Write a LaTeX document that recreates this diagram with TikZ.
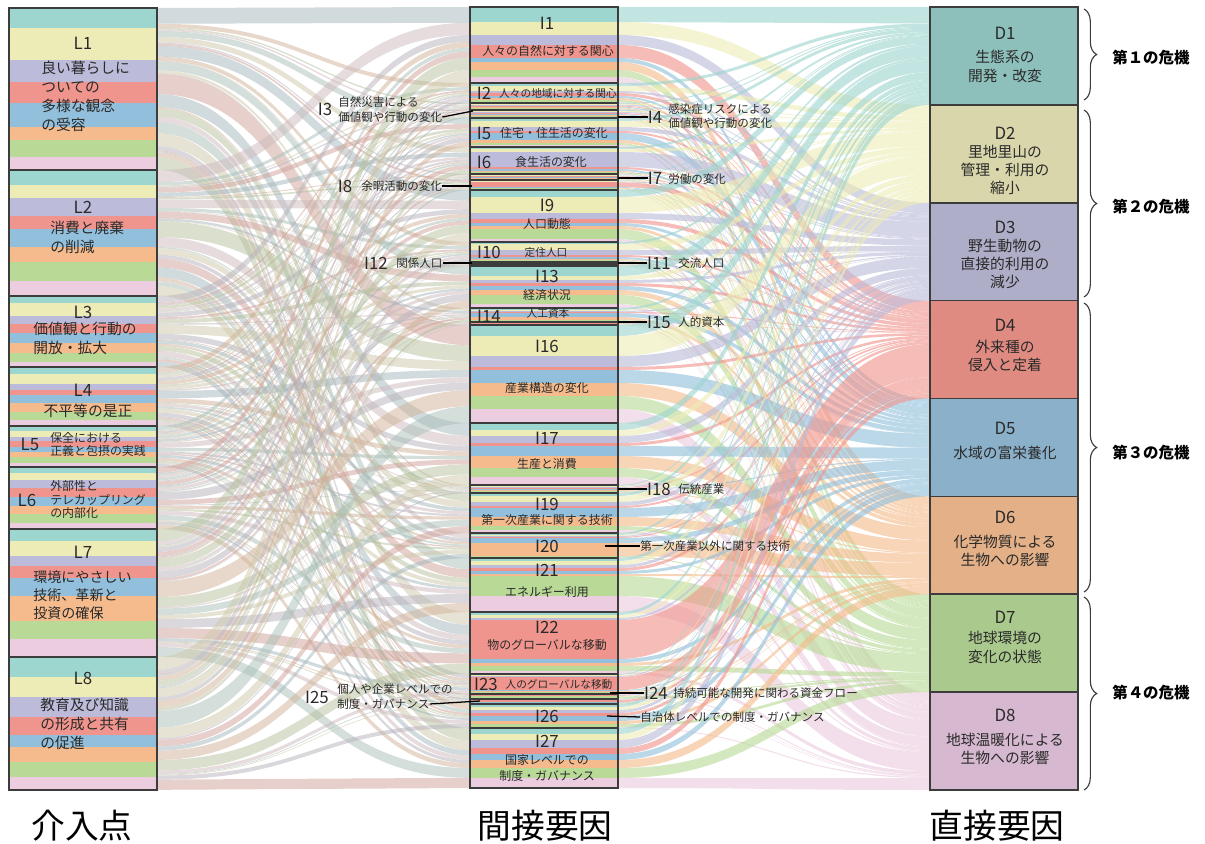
\documentclass[tikz,border=0pt]{standalone}
\usepackage{fontspec}
\setmainfont{Noto Sans CJK JP}
\usetikzlibrary{decorations.pathreplacing}
\definecolor{c1}{HTML}{9DD5CF}
\definecolor{c2}{HTML}{EEECB6}
\definecolor{c3}{HTML}{BCBBDA}
\definecolor{c4}{HTML}{F0958D}
\definecolor{c5}{HTML}{92C0DC}
\definecolor{c6}{HTML}{F5BB8C}
\definecolor{c7}{HTML}{B8DA96}
\definecolor{c8}{HTML}{ECCCDF}
\definecolor{d1}{HTML}{8EC0BB}
\definecolor{d2}{HTML}{D9D6AB}
\definecolor{d3}{HTML}{AFAEC9}
\definecolor{d4}{HTML}{DF8B81}
\definecolor{d5}{HTML}{8BB0C9}
\definecolor{d6}{HTML}{E3B087}
\definecolor{d7}{HTML}{AAC98D}
\definecolor{d8}{HTML}{D6B9D0}
\definecolor{mesh}{HTML}{B3ABA2}
\definecolor{edge}{HTML}{3C3C3C}
\definecolor{ink}{HTML}{2A2A2A}
\tikzset{
  boxline/.style={draw=edge, line width=1.1pt},
  flowL/.style={fill opacity=0.5},
  flowR/.style={fill opacity=0.62},
  leader/.style={draw=black, line width=0.9pt},
  num/.style={text=ink, inner sep=0pt, font=\fontsize{12}{13}\selectfont},
  ltxt/.style={text=ink, inner sep=0pt, align=left, font=\fontsize{10.5}{13.5}\selectfont},
  mtxt/.style={text=ink, inner sep=0pt, align=center, font=\fontsize{8.5}{11}\selectfont},
  stxt/.style={text=ink, inner sep=0pt, font=\fontsize{7.6}{10}\selectfont},
  otxt/.style={text=ink, inner sep=0pt, align=left, font=\fontsize{8.2}{10}\selectfont},
  dtxt/.style={text=ink, inner sep=0pt, align=center, font=\fontsize{10.5}{13}\selectfont},
  crisis/.style={text=black, inner sep=0pt, font=\bfseries\fontsize{11}{13}\selectfont},
  title/.style={text=black, inner sep=0pt, font=\fontsize{24}{26}\selectfont},
  bracel/.style={decorate, decoration={brace, amplitude=9pt}, line width=0.8pt, draw=edge}
}
% band between two vertical edges
\newcommand\band[7]{\fill[#1] (#2,#3) .. controls ({(#2+#5)/2},#3) and ({(#2+#5)/2},#6) .. (#5,#6) -- (#5,#7) .. controls ({(#2+#5)/2},#7) and ({(#2+#5)/2},#4) .. (#2,#4) -- cycle;}

\begin{document}
\begin{tikzpicture}[x=0.025cm, y=-0.025cm]
  \useasboundingbox (0,0) rectangle (1205,843);

  % top/bottom/weights of the eight colours
  \def\leftlist{8/170/20/32/22/21/24/13/17/13, 170/296/15/12/18/13/17/15/18/15,
    296/367/7/12/8/8/10/10/8/5, 367/426/7/10/6/5/8/9/8/6, 426/467/5/6/4/6/5/5/6/4,
    467/529/6/7/8/9/8/8/9/6, 529/657/12/15/10/12/17/25/18/18, 657/790/20/20/20/18/12/15/15/13}
  \def\midlist{7/83/15/13/10/13/4/8/7/6, 83/103/3/5/2/3/2/2/2/1, 103/110/1/1/1/1/1/1/1/1,
    110/118/1/1/1/1/1/1/1/1, 118/147/3/6/4/2/7/3/2/2, 147/174/2/3/15/2/2/1/1/1,
    174/180/1/1/1/1/1/1/1/1, 180/190/1/1/1/6/1/1/1/1, 190/242/7/16/6/4/3/3/10/3,
    242/262/2/6/5/2/2/1/1/1, 262/264/1/1/1/1/1/1/1/1, 264/266/1/1/1/1/1/1/1/1,
    266/308/10/4/3/3/4/5/9/4, 308/322/2/1/1/1/4/3/1/1, 322/325/1/1/1/1/1/1/1/1,
    325/423/11/20/11/3/13/13/13/14, 423/485/7/6/7/3/10/12/9/8, 485/493/1/1/1/1/1/1/1/1,
    493/533/3/6/4/2/9/9/4/3, 533/558/2/1/1/1/5/13/1/1, 558/612/3/4/3/3/3/2/20/16,
    612/674/3/3/2/39/4/3/5/3, 674/694/1/1/1/14/1/1/1/1, 694/699/1/1/1/1/1/1/6/1,
    699/704/1/1/1/6/1/1/1/1, 704/728/3/3/3/3/5/3/3/1, 728/788/6/6/8/6/6/8/10/10}

  % left flows L -> I
  \foreach \ytop/\ybot/\wa/\wb/\wc/\wd/\we/\wf/\wg/\wh [count=\j] in \midlist
    {\expandafter\xdef\csname iacc\j\endcsname{\ytop}}
  \foreach \lt/\lb/\pa/\pb/\pc/\pd/\pe/\pf/\pg/\ph [count=\i] in \leftlist {
    \xdef\lacc{\lt}
    \foreach \ytop/\ybot/\wa/\wb/\wc/\wd/\we/\wf/\wg/\wh [count=\j] in \midlist {
      \edef\yi{\csname iacc\j\endcsname}
      \pgfmathsetmacro\ww{(\lb-\lt)*(\ybot-\ytop)/782}
      \pgfmathsetmacro\ya{\lacc+\ww}
      \pgfmathsetmacro\yb{\yi+\ww}
      \pgfmathtruncatemacro\ci{mod(3*\i+\j,8)+1}
      \band{c\ci!45!mesh, flowL}{157}{\lacc}{\ya}{470}{\yi}{\yb}
      \xdef\lacc{\ya}
      \expandafter\xdef\csname iacc\j\endcsname{\yb}
    }
  }

  % right flows I -> D
  \foreach \k in {1,...,8}{\expandafter\xdef\csname tot\k\endcsname{0}}
  \foreach \ytop/\ybot/\wa/\wb/\wc/\wd/\we/\wf/\wg/\wh in \midlist {
    \pgfmathsetmacro\ws{\wa+\wb+\wc+\wd+\we+\wf+\wg+\wh}
    \foreach \wt [count=\k] in {\wa,\wb,\wc,\wd,\we,\wf,\wg,\wh} {
      \edef\tk{\csname tot\k\endcsname}
      \pgfmathsetmacro\tmp{\tk+\wt/\ws*(\ybot-\ytop)}
      \expandafter\xdef\csname tot\k\endcsname{\tmp}
    }
  }
  \foreach \k in {1,...,8}{\pgfmathsetmacro\tmp{7+(\k-1)*97.875}\expandafter\xdef\csname dacc\k\endcsname{\tmp}}
  \foreach \ytop/\ybot/\wa/\wb/\wc/\wd/\we/\wf/\wg/\wh in \midlist {
    \pgfmathsetmacro\ws{\wa+\wb+\wc+\wd+\we+\wf+\wg+\wh}
    \xdef\ycur{\ytop}
    \foreach \wt [count=\k] in {\wa,\wb,\wc,\wd,\we,\wf,\wg,\wh} {
      \edef\tk{\csname tot\k\endcsname}
      \edef\da{\csname dacc\k\endcsname}
      \pgfmathsetmacro\hh{\wt/\ws*(\ybot-\ytop)}
      \pgfmathsetmacro\yn{\ycur+\hh}
      \pgfmathsetmacro\db{\da+\hh*97.875/\tk}
      \band{c\k, flowR}{618}{\ycur}{\yn}{930}{\da}{\db}
      \fill[c\k] (470,\ycur) rectangle (618,\yn);
      \xdef\ycur{\yn}
      \expandafter\xdef\csname dacc\k\endcsname{\db}
    }
  }

  % left boxes
  \foreach \lt/\lb/\pa/\pb/\pc/\pd/\pe/\pf/\pg/\ph in \leftlist {
    \pgfmathsetmacro\ws{\pa+\pb+\pc+\pd+\pe+\pf+\pg+\ph}
    \xdef\ycur{\lt}
    \foreach \wt [count=\k] in {\pa,\pb,\pc,\pd,\pe,\pf,\pg,\ph} {
      \pgfmathsetmacro\yn{\ycur+\wt/\ws*(\lb-\lt)}
      \fill[c\k] (9,\ycur) rectangle (157,\yn);
      \xdef\ycur{\yn}
    }
  }
  \foreach \lt/\lb/\pa/\pb/\pc/\pd/\pe/\pf/\pg/\ph in \leftlist
    {\draw[boxline] (9,\lt) rectangle (157,\lb);}
  \foreach \ytop/\ybot/\wa/\wb/\wc/\wd/\we/\wf/\wg/\wh in \midlist
    {\draw[boxline] (470,\ytop) rectangle (618,\ybot);}

  % direct drivers
  \foreach \k in {1,...,8}{
    \pgfmathsetmacro\da{7+(\k-1)*97.875}
    \pgfmathsetmacro\db{\da+97.875}
    \draw[boxline, fill=d\k] (930,\da) rectangle (1078,\db);
  }

  % left labels
  \node[num] (l1n) at (83,43) {L1};
  \node[ltxt, anchor=west] (l1t) at (41,96.5) {良い暮らしに\\ついての\\多様な観念\\の受容};
  \node[num] (l2n) at (83,207) {L2};
  \node[ltxt, anchor=west] (l2t) at (50,237.5) {消費と廃棄\\の削減};
  \node[num] (l3n) at (83,312) {L3};
  \node[ltxt, anchor=west] (l3t) at (33,338.5) {価値観と行動の\\開放・拡大};
  \node[num] (l4n) at (83,390) {L4};
  \node[ltxt] (l4t) at (88,411) {不平等の是正};
  \node[num] (l5n) at (30,444) {L5};
  \node[ltxt, font=\fontsize{8.5}{9.6}\selectfont, anchor=west] (l5t) at (50,444.5) {保全における\\正義と包摂の実践};
  \node[num] (l6n) at (27,500) {L6};
  \node[ltxt, font=\fontsize{8.5}{9.6}\selectfont, anchor=west] (l6t) at (50,499.5) {外部性と\\テレカップリング\\の内部化};
  \node[num] (l7n) at (83,552) {L7};
  \node[ltxt, font=\fontsize{10}{12.8}\selectfont, anchor=west] (l7t) at (33,595) {環境にやさしい\\技術、革新と\\投資の確保};
  \node[num] (l8n) at (83,678) {L8};
  \node[ltxt, anchor=west] (l8t) at (40,723.5) {教育及び知識\\の形成と共有\\の促進};

  % middle labels
  \node[num] (i1n) at (547,23) {I1};
  \node[mtxt] (i1t) at (548,51) {人々の自然に対する関心};
  \node[num] (i2n) at (484,93) {I2};
  \node[stxt] (i2t) at (558,93) {人々の地域に対する関心};
  \node[num] (i5n) at (484,133) {I5};
  \node[mtxt] (i5t) at (554,133) {住宅・住生活の変化};
  \node[num] (i6n) at (484,162) {I6};
  \node[mtxt] (i6t) at (551,162) {食生活の変化};
  \node[num] (i9n) at (547,205) {I9};
  \node[mtxt] (i9t) at (547,224) {人口動態};
  \node[num] (i10n) at (489,252) {I10};
  \node[stxt] (i10t) at (546,252) {定住人口};
  \node[num] (i13n) at (547,276) {I13};
  \node[mtxt] (i13t) at (547,295) {経済状況};
  \node[num] (i14n) at (489,316) {I14};
  \node[stxt] (i14t) at (548,313) {人工資本};
  \node[num] (i16n) at (547,346) {I16};
  \node[mtxt] (i16t) at (547,388) {産業構造の変化};
  \node[num] (i17n) at (547,438) {I17};
  \node[mtxt] (i17t) at (547,464) {生産と消費};
  \node[num] (i19n) at (547,504) {I19};
  \node[mtxt] (i19t) at (547,520) {第一次産業に関する技術};
  \node[num] (i20n) at (547,546) {I20};
  \node[num] (i21n) at (547,570) {I21};
  \node[mtxt] (i21t) at (547,592) {エネルギー利用};
  \node[num] (i22n) at (547,627) {I22};
  \node[mtxt] (i22t) at (547,645) {物のグローバルな移動};
  \node[num] (i23n) at (486,684) {I23};
  \node[stxt] (i23t) at (559,684) {人のグローバルな移動};
  \node[num] (i26n) at (547,716) {I26};
  \node[num] (i27n) at (547,741) {I27};
  \node[mtxt] (i27t) at (547,768) {国家レベルでの\\制度・ガバナンス};

  % outside labels with leaders
  \node[num] (i3n) at (325,109) {I3};
  \node[otxt, anchor=west] (i3a) at (338,102) {自然災害による};
  \node[otxt, anchor=west] (i3b) at (338,117) {価値観や行動の変化};
  \coordinate (p3) at (473,111);
  \draw[leader] (i3b.east) -- (p3);
  \coordinate (p4) at (618,117);
  \node[num] (i4n) at (655,117) {I4};
  \node[otxt, anchor=west] (i4t) at (668,116) {感染症リスクによる\\価値観や行動の変化};
  \draw[leader] (p4) -- (i4n.west);
  \coordinate (p7) at (618,178);
  \node[num] (i7n) at (655,178) {I7};
  \node[otxt, anchor=west] (i7t) at (668,179) {労働の変化};
  \draw[leader] (p7) -- (i7n.west);
  \node[num] (i8n) at (345,186) {I8};
  \node[otxt, anchor=west] (i8t) at (361,186) {余暇活動の変化};
  \coordinate (p8) at (472,186);
  \draw[leader] (i8t.east) -- (p8);
  \coordinate (p11) at (618,263);
  \node[num] (i11n) at (659,263) {I11};
  \node[otxt, anchor=west] (i11t) at (678,263) {交流人口};
  \draw[leader] (p11) -- (i11n.west);
  \node[num] (i12n) at (376,263) {I12};
  \node[otxt, anchor=west] (i12t) at (396,263) {関係人口};
  \coordinate (p12) at (472,263);
  \draw[leader] (i12t.east) -- (p12);
  \coordinate (p15) at (618,322);
  \node[num] (i15n) at (659,322) {I15};
  \node[otxt, anchor=west] (i15t) at (678,322) {人的資本};
  \draw[leader] (p15) -- (i15n.west);
  \coordinate (p18) at (618,489);
  \node[num] (i18n) at (659,489) {I18};
  \node[otxt, anchor=west] (i18t) at (678,489) {伝統産業};
  \draw[leader] (p18) -- (i18n.west);
  \coordinate (p20) at (605,546);
  \node[otxt, anchor=west] (i20t) at (640,546) {第一次産業以外に関する技術};
  \draw[leader] (p20) -- (i20t.west);
  \coordinate (p24) at (610,693);
  \node[num] (i24n) at (656,693) {I24};
  \node[otxt, anchor=west] (i24t) at (673,693) {持続可能な開発に関わる資金フロー};
  \draw[leader] (p24) -- (i24n.west);
  \node[num] (i25n) at (317,697) {I25};
  \node[otxt, anchor=west] (i25a) at (337,689) {個人や企業レベルでの};
  \node[otxt, anchor=west] (i25b) at (337,704) {制度・ガバナンス};
  \coordinate (p25) at (480,701);
  \draw[leader] (i25b.east) -- (p25);
  \coordinate (p26) at (607,716);
  \node[otxt, anchor=west] (i26t) at (640,717) {自治体レベルでの制度・ガバナンス};
  \draw[leader] (p26) -- (i26t.west);

  % direct driver labels
  \node[num] (d1n) at (1005,33) {D1};
  \node[dtxt] (d1t) at (1005,66.5) {生態系の\\開発・改変};
  \node[num] (d2n) at (1005,133) {D2};
  \node[dtxt] (d2t) at (1005,170) {里地里山の\\管理・利用の\\縮小};
  \node[num] (d3n) at (1005,227) {D3};
  \node[dtxt] (d3t) at (1005,264) {野生動物の\\直接的利用の\\減少};
  \node[num] (d4n) at (1005,325) {D4};
  \node[dtxt] (d4t) at (1005,356) {外来種の\\侵入と定着};
  \node[num] (d5n) at (1005,428) {D5};
  \node[dtxt] (d5t) at (1005,453) {水域の富栄養化};
  \node[num] (d6n) at (1005,517) {D6};
  \node[dtxt] (d6t) at (1005,551) {化学物質による\\生物への影響};
  \node[num] (d7n) at (1005,617) {D7};
  \node[dtxt] (d7t) at (1005,647.5) {地球環境の\\変化の状態};
  \node[num] (d8n) at (1005,715) {D8};
  \node[dtxt] (d8t) at (1005,749) {地球温暖化による\\生物への影響};

  % crises
  \draw[bracel] (1084,9) -- (1084,100);
  \draw[bracel] (1084,110) -- (1084,297);
  \draw[bracel] (1084,303) -- (1084,592);
  \draw[bracel] (1084,597) -- (1084,790);
  \node[crisis, anchor=west] (k1) at (1112,58) {第１の危機};
  \node[crisis, anchor=west] (k2) at (1112,207) {第２の危機};
  \node[crisis, anchor=west] (k3) at (1112,453) {第３の危機};
  \node[crisis, anchor=west] (k4) at (1112,693) {第４の危機};

  % column titles
  \node[title] (tL) at (82,826) {介入点};
  \node[title] (tI) at (545,826) {間接要因};
  \node[title] (tD) at (997,826) {直接要因};
\end{tikzpicture}
\end{document}
